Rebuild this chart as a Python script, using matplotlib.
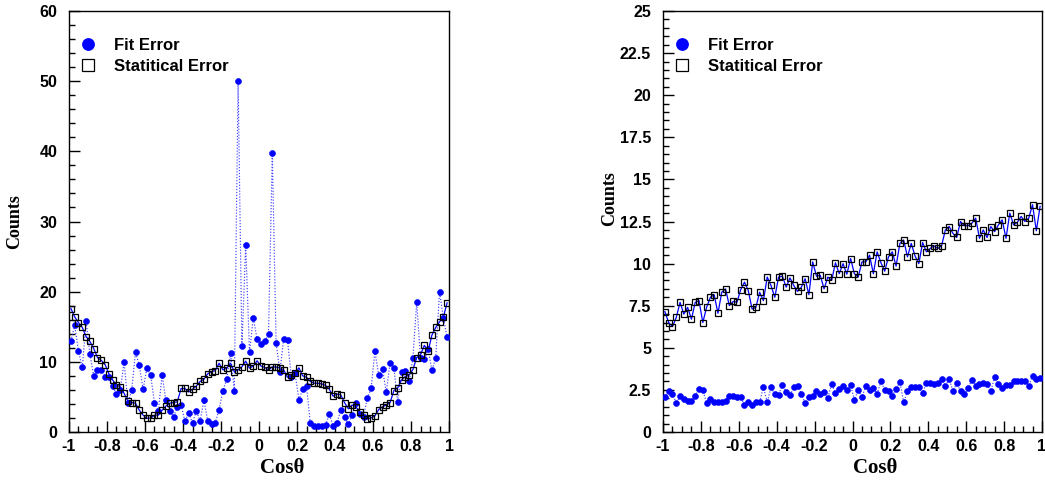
import numpy as np
import matplotlib
matplotlib.use("Agg")
import matplotlib.pyplot as plt
from matplotlib.lines import Line2D
from matplotlib.ticker import MultipleLocator, FuncFormatter

# ---------------- data ----------------
n_bins = 100
cos_centers = np.linspace(-0.99, 0.99, n_bins)

left_fit = [
    13.0, 15.2, 11.5, 9.2, 15.8, 11.1, 8.0, 8.9, 8.9, 7.8,
    7.8, 6.5, 5.4, 6.0, 10.0, 4.1, 6.0, 11.35, 9.5, 6.1,
    9.1, 8.1, 4.1, 3.0, 8.1, 4.5, 3.0, 2.2, 3.5, 3.9,
    1.5, 2.7, 1.3, 3.0, 1.6, 4.5, 1.6, 1.1, 1.35, 3.2,
    5.9, 7.5, 11.2, 5.9, 50.0, 12.2, 26.7, 11.35, 16.3, 13.2,
    12.5, 12.9, 13.9, 39.8, 12.7, 8.6, 13.3, 13.1, 7.9, 8.35,
    4.6, 6.1, 6.6, 1.24, 0.8, 0.9, 0.9, 1.0, 2.5, 0.9,
    1.24, 3.1, 2.1, 1.14, 2.4, 4.2, 2.6, 2.2, 4.8, 6.2,
    11.5, 8.1, 9.0, 5.65, 9.9, 9.1, 4.3, 8.6, 8.75, 7.2,
    10.5, 18.5, 10.5, 10.4, 11.8, 8.8, 10.5, 20.0, 16.3, 13.5,
]

left_stat = [
    17.6, 16.4, 15.6, 14.9, 13.6, 12.9, 11.9, 10.6, 10.2, 9.6,
    8.3, 7.4, 6.7, 6.45, 5.5, 4.4, 4.2, 4.1, 3.1, 2.4,
    1.95, 2.0, 2.4, 2.4, 3.1, 3.7, 4.1, 4.2, 4.3, 6.2,
    6.2, 5.7, 6.1, 6.55, 7.2, 7.5, 8.3, 8.6, 8.75, 9.8,
    8.85, 9.1, 9.8, 8.6, 8.85, 9.3, 10.1, 9.1, 9.4, 10.15,
    9.4, 9.2, 8.85, 9.3, 9.25, 9.15, 8.85, 7.8, 8.1, 8.35,
    9.15, 8.0, 7.8, 7.2, 6.95, 6.95, 6.85, 6.65, 6.1, 5.1,
    5.4, 5.3, 4.2, 3.3, 3.85, 3.6, 2.8, 2.4, 1.85, 2.0,
    2.3, 3.2, 3.6, 3.85, 4.2, 5.9, 6.3, 7.4, 7.9, 8.1,
    8.9, 10.6, 11.0, 12.35, 11.5, 13.8, 14.9, 15.7, 16.35, 18.4,
]

right_fit = [
    2.06, 2.44, 2.28, 1.7, 2.14, 1.94, 1.82, 1.82, 2.16, 2.57,
    2.5, 1.7, 1.96, 1.8, 1.8, 1.8, 1.86, 2.16, 2.16, 2.1,
    2.1, 1.6, 1.78, 1.58, 1.76, 1.76, 2.67, 1.76, 2.65, 2.24,
    2.22, 2.81, 2.36, 2.18, 2.65, 2.71, 2.28, 1.7, 2.06, 2.16,
    2.44, 2.28, 2.4, 2.04, 2.85, 2.32, 2.57, 2.75, 2.5, 2.77,
    1.92, 2.48, 2.08, 2.73, 2.5, 2.63, 2.28, 3.0, 2.5, 2.44,
    2.14, 2.57, 2.97, 1.76, 2.42, 2.69, 2.67, 2.67, 2.32, 2.91,
    2.91, 2.83, 2.89, 3.17, 2.73, 3.13, 2.44, 2.89, 2.44, 2.24,
    2.61, 3.1, 2.75, 2.85, 2.89, 2.83, 2.44, 3.25, 2.83, 2.59,
    2.77, 2.77, 3.0, 3.05, 3.03, 3.0, 2.73, 3.35, 3.15, 3.23,
]

right_stat = [
    7.15, 6.5, 6.26, 6.8, 7.7, 7.0, 7.4, 6.7, 7.7, 7.8,
    6.5, 7.4, 8.0, 8.15, 7.05, 8.3, 8.5, 7.5, 7.75, 7.7,
    8.45, 8.9, 8.4, 7.3, 7.4, 8.3, 7.8, 9.2, 8.7, 8.0,
    9.2, 9.25, 8.6, 9.15, 8.7, 8.35, 8.6, 9.1, 8.15, 10.1,
    9.25, 9.3, 8.5, 9.2, 9.0, 10.05, 9.4, 10.0, 9.37, 10.3,
    9.4, 9.2, 10.1, 10.1, 10.5, 9.4, 10.7, 10.05, 9.55, 10.4,
    10.7, 9.85, 11.2, 11.4, 10.4, 11.2, 10.45, 10.0, 11.25, 10.7,
    10.9, 11.05, 10.9, 11.05, 12.0, 12.2, 11.8, 11.55, 12.5, 12.25,
    12.25, 12.4, 12.7, 11.5, 12.0, 11.55, 12.2, 11.9, 12.3, 12.6,
    11.5, 13.0, 12.3, 12.45, 12.8, 12.5, 12.7, 13.5, 11.95, 13.4,
]

legend_labels = ["Fit Error", "Statitical Error"]
x_label = "Cosθ"
y_label = "Counts"

# ---------------- style ----------------
SANS = "Liberation Sans"
SERIF = "Liberation Serif"
BLUE = "#0000ff"

fig = plt.figure(figsize=(10.45, 4.83), dpi=100)
ax_l = fig.add_axes([69 / 1045, 1 - 432 / 483, 380 / 1045, 421 / 483])
ax_r = fig.add_axes([663 / 1045, 1 - 432 / 483, 379 / 1045, 421 / 483])


def fmt_x(v, pos):
    if abs(v) < 1e-9:
        return "0"
    if abs(abs(v) - 1) < 1e-9:
        return "%d" % round(v)
    return ("%.1f" % v)


def fmt_y(v, pos):
    if abs(v - round(v)) < 1e-9:
        return "%d" % round(v)
    return "%.1f" % v


def draw(ax, fit, stat, ymax, ymajor, yminor, ylabel_y):
    ax.plot(cos_centers, fit, linestyle=(0, (1, 1.5)), color=BLUE, lw=0.85,
            alpha=0.75, zorder=2)
    ax.plot(cos_centers, fit, linestyle="none", marker="o", ms=4.3,
            mfc=BLUE, mec=BLUE, mew=0.4, zorder=3)
    ax.plot(cos_centers, stat, linestyle="-", color=BLUE, lw=0.9, zorder=4)
    ax.plot(cos_centers, stat, linestyle="none", marker="s", ms=5.0,
            mfc="none", mec="black", mew=0.9, zorder=5)

    ax.set_xlim(-1, 1)
    ax.set_ylim(0, ymax)
    ax.xaxis.set_major_locator(MultipleLocator(0.2))
    ax.xaxis.set_minor_locator(MultipleLocator(0.05))
    ax.yaxis.set_major_locator(MultipleLocator(ymajor))
    ax.yaxis.set_minor_locator(MultipleLocator(yminor))
    ax.xaxis.set_major_formatter(FuncFormatter(fmt_x))
    ax.yaxis.set_major_formatter(FuncFormatter(fmt_y))
    ax.tick_params(which="both", direction="in", top=False, right=False,
                   width=1.0, colors="black")
    ax.tick_params(which="major", length=8)
    ax.tick_params(which="minor", length=4)
    ax.tick_params(axis="y", which="major", pad=8.5)
    ax.tick_params(axis="x", which="major", pad=5)
    for lab in ax.get_xticklabels() + ax.get_yticklabels():
        lab.set_fontfamily(SANS)
        lab.set_fontweight("bold")
        lab.set_fontsize(11.5)
    for sp in ax.spines.values():
        sp.set_linewidth(1.0)
        sp.set_color("black")
    ax.set_xlabel(x_label, fontfamily=SERIF, fontweight="bold", fontsize=15)
    ax.xaxis.set_label_coords(0.56, -41 / 421)
    ax.xaxis.label.set_va("baseline")
    ax.set_ylabel(y_label, fontfamily=SERIF, fontweight="bold", fontsize=13)
    ax.yaxis.set_label_coords(-54 / 380, ylabel_y)
    ax.yaxis.label.set_va("center")
    ax.yaxis.label.set_ha("center")

    handles = [
        Line2D([], [], linestyle="none", marker="o", ms=8.2, mfc=BLUE, mec=BLUE),
        Line2D([], [], linestyle="none", marker="s", ms=8.0, mfc="none",
               mec="black", mew=0.9),
    ]
    ax.legend(handles, legend_labels, loc="upper left",
              bbox_to_anchor=(0.0103, 0.951), frameon=False,
              handlelength=1.0, handletextpad=1.06, labelspacing=0.36,
              borderaxespad=0.0, borderpad=0.4,
              prop={"family": SANS, "weight": "bold", "size": 12})


draw(ax_l, left_fit, left_stat, 60, 10, 2, 0.5)
draw(ax_r, right_fit, right_stat, 25, 2.5, 0.5, 0.555)

fig.savefig("out.png", dpi=100)
